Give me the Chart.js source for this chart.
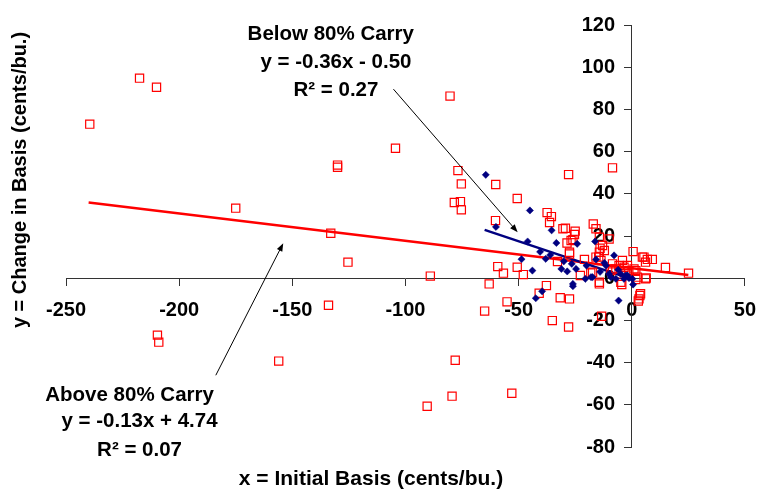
<!DOCTYPE html>
<html>
<head>
<meta charset="utf-8">
<script src="https://cdn.jsdelivr.net/npm/chart.js@4.4.0/dist/chart.umd.min.js"></script>
<style>
  html, body { margin: 0; padding: 0; background: #fff; }
  #wrap { position: relative; width: 769px; height: 497px; }
</style>
</head>
<body>
<div id="wrap"><canvas id="chart"></canvas></div>
<script>
// Axis ranges
const xRange = [-250, 50];
const yRange = [-80, 120];
const xStep = 50;
const yStep = 20;

// Below 80% Carry (navy diamonds) [initial basis, change in basis]
const belowPoints = [
    [-64.5, 49], [-60, 24.3], [-45, 32.1], [-35.4, 22.7], [-33.3, 16.7], [-46, 17.4],
    [-24.1, 16.3], [-16.2, 17.4], [-40.5, 12.5], [-48.7, 9], [-38, 9.2], [-43.9, 3.6],
    [-31.1, 4.4], [-42.4, -9.5], [-39.6, -6.2], [-28.5, 3.2], [-26.5, 6.8], [-24.6, 4.4],
    [-26, -2.7], [-26, -3.8], [-20.5, -0.3], [-17.3, 0.5], [-15.8, 8.9], [-12.1, 7.3],
    [-5.8, -10.6], [0.6, -3], [-7.8, 10.8], [-2.6, 1.3], [-1.2, 0], [-11.4, 6],
    [-18, 0.5], [-4.8, 2], [-1.9, 1.3], [0.3, -0.3], [-9.2, 0.5], [-7, -0.3],
    [-3.4, -0.3], [-36, 11], [-30, 8], [-14, 3], [-10, 2], [-6, 4], [-20, 6]
];

// Above 80% Carry (red hollow squares)
const abovePoints = [
    [-239.5, 73], [-217.5, 94.8], [-210, 90.5], [-175, 33.2], [-133, 21.3], [-130, 53.6],
    [-130, 52.6], [-125.4, 7.6], [-104.4, 61.6], [-134, -12.8], [-209.6, -27], [-209, -30.3],
    [-156, -39.3], [-89, 1], [-90.4, -60.7], [-79.4, -55.9], [-78, -38.9], [-80.3, 86.3],
    [-53, -54.5], [-76.8, 51], [-75.3, 44.7], [-78.4, 35.9], [-75.7, 36.3], [-75.3, 32.4],
    [-60.1, 44.4], [-50.6, 37.8], [-60.2, 27.3], [-37.4, 31.1], [-35.5, 29.2], [-36.3, 26.4],
    [-27.9, 49.1], [-29.3, 23.7], [-25, 22.3], [-25.3, 20.7], [-26, 18.3], [-28.6, 16.7],
    [-17, 25.7], [-15.8, 23.4], [-8.5, 52.3], [-14, 14.2], [0.6, 12.6], [-63, -2.7],
    [-59.2, 5.5], [-56.7, 2.4], [-50.6, 5.2], [-47.9, 1.7], [-55.1, -11.2], [-65, -15.6],
    [-40.9, -7.1], [-37.7, -3.5], [-31.6, -9.3], [-27.5, -9.8], [-35.1, -20.1], [-27.9, -23.1],
    [-22.7, 1.3], [-18.1, 2.5], [-14.3, -2.7], [-13.3, -18], [-4.4, -3], [-20.9, 8.9],
    [-32.8, 7.9], [-27.5, 11.5], [3.6, -8.2], [2.9, -10.8], [6.4, 0.1], [1.8, -0.6],
    [4.7, 10], [6.9, 8.9], [9.1, 8.9], [14.9, 5.1], [25.1, 2.4], [6.1, 7.6],
    [-1.3, 3.6], [1, 4.4], [-1.9, 6], [-8.5, 4.4], [-14.6, 10], [-30.4, 23.4],
    [-26.8, 17.9], [-27.5, 12.3], [-14.3, 12.3], [-12.1, 13.1], [-15.8, 10], [-13.6, 8.4],
    [5.4, 10], [-8.5, 6.8], [-5.6, 6], [-3.4, 5.2], [-7, 4.4], [-9.2, 3.6],
    [-2.6, 3.6], [1.8, 3.6], [-17.3, 2.8], [-14.3, -1.9], [-4.8, -1.9], [6.1, -0.3],
    [3.9, -7.4], [-14.3, 19.4], [-10, 18.6], [-12.9, 15.5], [-4.1, 8.4], [2.5, 0.5],
    [3.2, -9.8]
];

// Trend line end points
const belowTrend = [[-65, 22.9], [-1, -0.1]];
const aboveTrend = [[-240, 35.9], [25, 1.5]];

// Text notes (data coordinates)
const notes = [
    { text: 'Below 80% Carry', at: [-133, 115.6] },
    { text: 'y = -0.36x - 0.50', at: [-130.7, 102.4] },
    { text: 'R\u00B2 = 0.27', at: [-130.7, 89.1] },
    { text: 'Above 80% Carry', at: [-221.9, -55.5] },
    { text: 'y = -0.13x + 4.74', at: [-217.5, -67.8] },
    { text: 'R\u00B2 = 0.07', at: [-217.5, -81.5] }
];
const arrows = [
    { from: [-105.3, 89.6], to: [-50.4, 21.8] },
    { from: [-183.8, -46], to: [-154, 16.6] }
];

const toXY = pts => pts.map(p => ({ x: p[0], y: p[1] }));
const FONT = '"Liberation Sans", Arial, sans-serif';

function drawArrow(ctx, x1, y1, x2, y2) {
    const ang = Math.atan2(y2 - y1, x2 - x1);
    const len = 8, half = 3;
    ctx.beginPath();
    ctx.moveTo(x1, y1);
    ctx.lineTo(x2 - Math.cos(ang) * len * 0.8, y2 - Math.sin(ang) * len * 0.8);
    ctx.stroke();
    ctx.beginPath();
    ctx.moveTo(x2, y2);
    ctx.lineTo(x2 - Math.cos(ang) * len - Math.sin(ang) * half, y2 - Math.sin(ang) * len + Math.cos(ang) * half);
    ctx.lineTo(x2 - Math.cos(ang) * len + Math.sin(ang) * half, y2 - Math.sin(ang) * len - Math.cos(ang) * half);
    ctx.closePath();
    ctx.fill();
}

const notesPlugin = {
    id: 'notes',
    afterDraw(chart) {
        const { ctx } = chart;
        const xs = chart.scales.x, ys = chart.scales.y;
        ctx.save();
        ctx.fillStyle = '#000';
        ctx.strokeStyle = '#000';
        ctx.lineWidth = 1;
        arrows.forEach(a => drawArrow(ctx,
            xs.getPixelForValue(a.from[0]), ys.getPixelForValue(a.from[1]),
            xs.getPixelForValue(a.to[0]), ys.getPixelForValue(a.to[1])));

        ctx.font = 'bold 20.5px ' + FONT;
        ctx.textAlign = 'center';
        ctx.textBaseline = 'middle';
        notes.forEach(n => ctx.fillText(n.text, xs.getPixelForValue(n.at[0]), ys.getPixelForValue(n.at[1])));

        // axis titles
        ctx.font = 'bold 21px ' + FONT;
        ctx.fillText('x = Initial Basis (cents/bu.)', 371, 479);
        ctx.font = 'bold 20px ' + FONT;
        ctx.translate(20, 180);
        ctx.rotate(-Math.PI / 2);
        ctx.fillText('y = Change in Basis (cents/bu.)', 0, 0);
        ctx.restore();
    }
};

new Chart(document.getElementById('chart'), {
    type: 'scatter',
    data: {
        datasets: [
            {
                label: 'Below 80% Carry',
                data: toXY(belowPoints),
                pointStyle: 'rectRot',
                pointRadius: 3.6,
                backgroundColor: '#000080',
                borderColor: '#000080',
                borderWidth: 0.5
            },
            {
                label: 'Above 80% Carry',
                data: toXY(abovePoints),
                pointStyle: 'rect',
                pointRadius: 5.8,
                backgroundColor: 'rgba(0,0,0,0)',
                borderColor: '#ff0000',
                borderWidth: 1.2
            },
            {
                type: 'line',
                label: 'Below trend',
                data: toXY(belowTrend),
                borderColor: '#000080',
                borderWidth: 2.5,
                pointRadius: 0,
                fill: false
            },
            {
                type: 'line',
                label: 'Above trend',
                data: toXY(aboveTrend),
                borderColor: '#ff0000',
                borderWidth: 2.5,
                pointRadius: 0,
                fill: false
            }
        ]
    },
    options: {
        responsive: true,
        maintainAspectRatio: false,
        animation: false,
        layout: { padding: { left: 66, right: 19, top: 25, bottom: 50 } },
        plugins: { legend: { display: false }, tooltip: { enabled: false } },
        scales: {
            x: {
                type: 'linear',
                position: { y: 0 },
                min: xRange[0],
                max: xRange[1],
                afterFit: s => { s.height = 0; },
                ticks: { stepSize: xStep, color: '#000', padding: 13, font: { family: FONT, size: 20, weight: 'bold' } },
                grid: { drawOnChartArea: false, drawTicks: true, tickLength: 7, color: '#333' },
                border: { display: true, color: '#333', width: 1 }
            },
            y: {
                type: 'linear',
                position: { x: 0 },
                min: yRange[0],
                max: yRange[1],
                afterFit: s => { s.width = 0; },
                ticks: {
                    stepSize: yStep,
                    color: '#000',
                    font: { family: FONT, size: 20, weight: 'bold' },
                    // centre-positioned axis puts labels flush on the line, pad with spaces
                    callback: v => v + '   '
                },
                grid: { drawOnChartArea: false, drawTicks: true, tickLength: 7, color: '#333' },
                border: { display: true, color: '#333', width: 1 }
            }
        }
    },
    plugins: [notesPlugin]
});
</script>
</body>
</html>
